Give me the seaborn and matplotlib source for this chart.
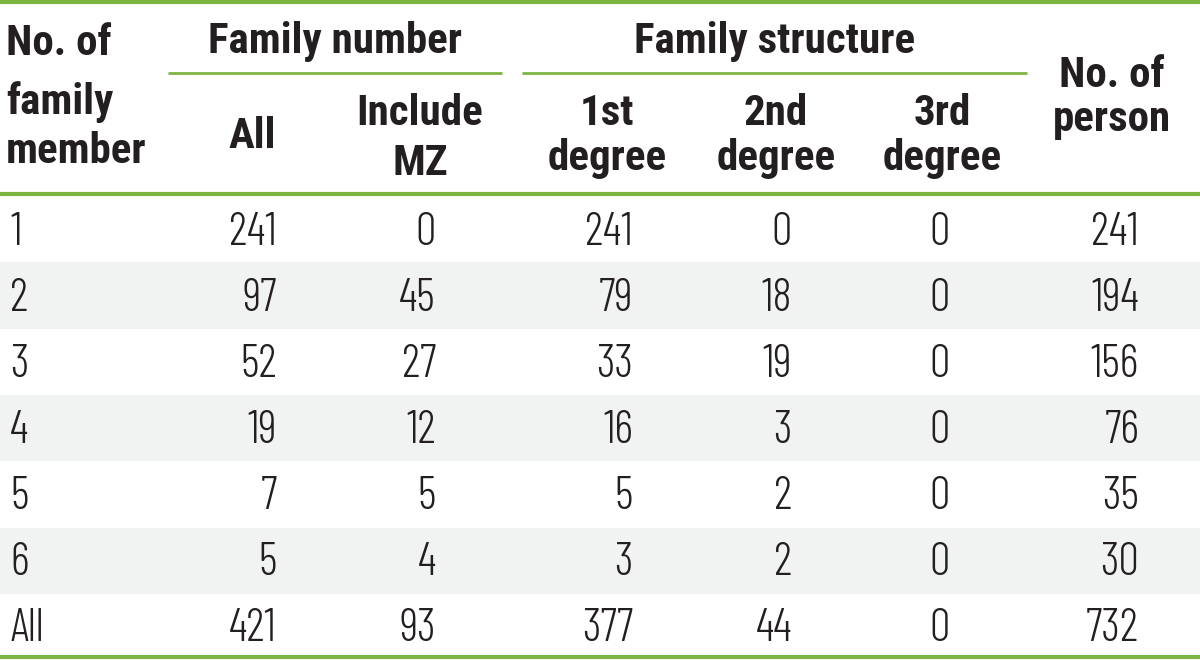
import matplotlib
matplotlib.use("Agg")
import matplotlib.pyplot as plt
import seaborn as sns

# table contents
member = ["1", "2", "3", "4", "5", "6", "All"]
fam_all = [241, 97, 52, 19, 7, 5, 421]
fam_mz = [0, 45, 27, 12, 5, 4, 93]
deg1 = [241, 79, 33, 16, 5, 3, 377]
deg2 = [0, 18, 19, 3, 2, 2, 44]
deg3 = [0, 0, 0, 0, 0, 0, 0]
persons = [241, 194, 156, 76, 35, 30, 732]

sns.set_style("white")
plt.rcParams["font.family"] = ["Roboto Condensed", "DejaVu Sans"]

green = "#7cb542"
shade = "#f1f2f2"
ink = "#231f20"

fig = plt.figure(figsize=(12, 6.6), dpi=100)
ax = fig.add_axes([0, 0, 1, 1])
ax.set_xlim(0, 1200)
ax.set_ylim(660, 0)
ax.axis("off")

# layout (pixels)
row_top = 196
row_h = 66.3
num_right = [277, 436, 633, 792, 950, 1139]
cols = [fam_all, fam_mz, deg1, deg2, deg3, persons]

# shaded rows
for i in range(len(member)):
    y0 = row_top + i * row_h
    if i % 2 == 1:
        ax.fill_between([0, 1200], y0, y0 + row_h, color=shade, lw=0)

# rules
ax.plot([0, 1200], [2, 2], color=green, lw=3, solid_capstyle="butt")
ax.plot([0, 1200], [194, 194], color=green, lw=3, solid_capstyle="butt")
ax.plot([0, 1200], [657, 657], color=green, lw=3, solid_capstyle="butt")
ax.plot([168, 502], [73, 73], color=green, lw=2, solid_capstyle="butt")
ax.plot([522, 1027], [73, 73], color=green, lw=2, solid_capstyle="butt")

hdr = dict(fontsize=31, fontweight="bold", color=ink, va="baseline")
ax.text(6, 55, "No. of", ha="left", **hdr)
ax.text(6, 114, "family", ha="left", **hdr)
ax.text(6, 163, "member", ha="left", **hdr)
ax.text(335, 53, "Family number", ha="center", **hdr)
ax.text(775, 53, "Family structure", ha="center", **hdr)
ax.text(252, 148, "All", ha="center", **hdr)
ax.text(420, 125, "Include", ha="center", **hdr)
ax.text(420, 175, "MZ", ha="center", **hdr)
for x, lab in zip([607, 776, 942], ["1st", "2nd", "3rd"]):
    ax.text(x, 125, lab, ha="center", **hdr)
    ax.text(x, 170, "degree", ha="center", **hdr)
ax.text(1112, 87, "No. of", ha="center", **hdr)
ax.text(1112, 131, "person", ha="center", **hdr)

body = dict(fontsize=33, fontweight=300, color=ink, va="baseline",
            family=["Barlow Condensed", "DejaVu Sans"])
for i, m in enumerate(member):
    yb = 245 + i * 66
    ax.text(10, yb, m, ha="left", **body)
    for xr, col in zip(num_right, cols):
        ax.text(xr, yb, str(col[i]), ha="right", **body)

fig.savefig("out.png", dpi=100)
